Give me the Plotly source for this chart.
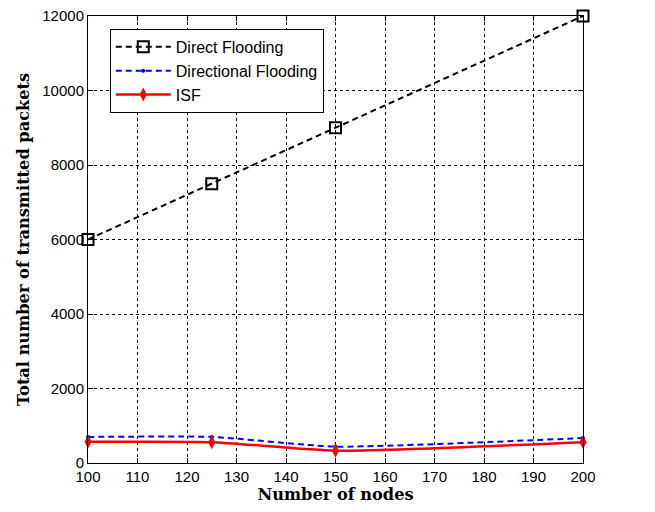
import plotly.graph_objects as go

nodes = [100, 125, 150, 200]
direct_flooding = [6000, 7500, 9000, 12000]
directional_flooding = [700, 700, 440, 670]
isf = [570, 560, 330, 560]

x_ticks = list(range(100, 201, 10))
y_ticks = list(range(0, 12001, 2000))
y_tick_labels = [str(v) for v in y_ticks]

fig = go.Figure()
fig.add_trace(go.Scatter(
    x=nodes, y=direct_flooding, name="Direct Flooding", mode="lines+markers",
    line=dict(color="black", width=2, dash="6px,4px"), cliponaxis=False,
    marker=dict(symbol="square-open", size=11, color="black", line=dict(width=2)),
))
fig.add_trace(go.Scatter(
    x=nodes, y=directional_flooding, name="Directional Flooding", mode="lines+markers",
    line=dict(color="blue", width=2, dash="6px,4px", shape="spline", smoothing=0.5),
    cliponaxis=False,
    marker=dict(symbol="circle", size=4, color="blue"),
))
fig.add_trace(go.Scatter(
    x=nodes, y=isf, name="ISF", mode="lines+markers",
    line=dict(color="red", width=2.5, shape="spline", smoothing=0.5),
    cliponaxis=False,
    marker=dict(symbol="diamond-tall", size=10, color="red"),
))

axis_common = dict(
    showgrid=True, gridcolor="black", gridwidth=1, griddash="dot",
    showline=True, linecolor="black", linewidth=1, mirror="ticks",
    ticks="inside", ticklen=5, tickcolor="black",
    tickfont=dict(family="Liberation Sans, Arial", size=15, color="black"),
    zeroline=False, ticklabeloverflow="allow", automargin=False,
)
title_font = dict(family="DejaVu Serif", size=16.2, color="black", weight="bold")
fig.update_layout(
    width=655, height=512,
    margin=dict(l=80, r=80, t=8, b=57),
    plot_bgcolor="white", paper_bgcolor="white",
    xaxis=dict(range=[100, 200], tickvals=x_ticks, **axis_common,
               title=dict(text="Number of nodes", standoff=4, font=title_font)),
    yaxis=dict(range=[0, 12000], tickvals=y_ticks, ticktext=y_tick_labels, **axis_common,
               title=dict(text="Total number of transmitted packets", standoff=8, font=title_font)),
    legend=dict(x=0.044, y=0.971, xanchor="left", yanchor="top",
                bgcolor="white", bordercolor="black", borderwidth=1,
                font=dict(family="Liberation Sans, Arial", size=16, color="black"),
                tracegroupgap=0, itemwidth=55),
    showlegend=True,
)
fig.write_html("out.html")
